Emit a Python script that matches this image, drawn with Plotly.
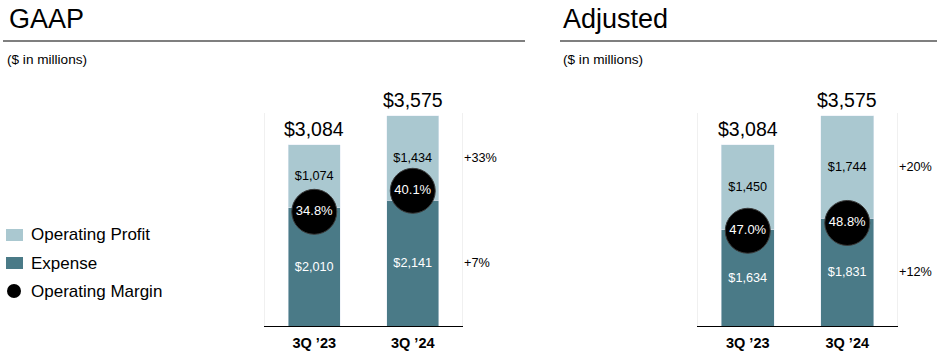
import plotly.graph_objects as go

W, H = 949, 358

categories = ["3Q \u201923", "3Q \u201924"]
gaap_expense = [2010, 2141]
gaap_profit = [1074, 1434]
gaap_total = [3084, 3575]
gaap_margin = [34.8, 40.1]
gaap_growth_profit = "+33%"
gaap_growth_expense = "+7%"

adj_expense = [1634, 1831]
adj_profit = [1450, 1744]
adj_total = [3084, 3575]
adj_margin = [47.0, 48.8]
adj_growth_profit = "+20%"
adj_growth_expense = "+12%"

LIGHT = "#AAC8D0"
DARK = "#4A7A87"
FONT = "Arial, Liberation Sans, sans-serif"


def px(x):
    return x / W


def py(y):
    return 1 - y / H


fig = go.Figure()

panels = [
    dict(xa="x", ya="y", ya2="y2", exp=gaap_expense, prof=gaap_profit, tot=gaap_total,
         mar=gaap_margin, gp=gaap_growth_profit, ge=gaap_growth_expense),
    dict(xa="x3", ya="y3", ya2="y4", exp=adj_expense, prof=adj_profit, tot=adj_total,
         mar=adj_margin, gp=adj_growth_profit, ge=adj_growth_expense),
]

for p in panels:
    fig.add_trace(go.Bar(
        x=categories, y=p["exp"], name="Expense", marker_color=DARK,
        text=[f"${v:,}" for v in p["exp"]], textposition="inside",
        insidetextanchor="middle", textangle=0,
        textfont=dict(color="white", size=12.7, family=FONT),
        xaxis=p["xa"], yaxis=p["ya"], width=0.53, showlegend=False,
    ))
    fig.add_trace(go.Bar(
        x=categories, y=p["prof"], name="Operating Profit", marker_color=LIGHT,
        text=[f"${v:,}" for v in p["prof"]], textposition="inside",
        insidetextanchor="middle", textangle=0,
        textfont=dict(color="black", size=12.7, family=FONT),
        xaxis=p["xa"], yaxis=p["ya"], width=0.53, showlegend=False,
    ))
    fig.add_trace(go.Scatter(
        x=categories, y=p["mar"], name="Operating Margin", mode="markers+text",
        marker=dict(color="black", size=45, line=dict(color="#3a3a3a", width=1)),
        text=[f"{v:.1f}%" for v in p["mar"]], textposition="middle center",
        textfont=dict(color="white", size=13, family=FONT),
        xaxis=p["xa"], yaxis=p["ya2"], showlegend=False, cliponaxis=False,
        hoverinfo="skip",
    ))
    for c, t in zip(categories, p["tot"]):
        fig.add_annotation(x=c, y=t, xref=p["xa"], yref=p["ya"], text=f"${t:,}",
                           showarrow=False, yanchor="bottom", yshift=3,
                           font=dict(size=19.5, color="black", family=FONT))
    last_e = p["exp"][-1]
    last_p = p["prof"][-1]
    fig.add_annotation(x=1.5, y=last_e + last_p / 2, xref=p["xa"], yref=p["ya"],
                       text=p["gp"], showarrow=False, xanchor="left", xshift=0,
                       font=dict(size=12.7, color="black", family=FONT))
    fig.add_annotation(x=1.5, y=last_e / 2, xref=p["xa"], yref=p["ya"],
                       text=p["ge"], showarrow=False, xanchor="left", xshift=0,
                       font=dict(size=12.7, color="black", family=FONT))

ydom = [py(326), py(113)]
common_x = dict(type="category", range=[-0.5, 1.5], showline=True, linecolor="black",
                linewidth=1, showgrid=False, zeroline=False, ticks="outside", ticklen=4,
                tickcolor="rgba(0,0,0,0)",
                tickfont=dict(size=14.5, color="black", family=FONT, weight="bold"))
common_y = dict(range=[0, 3625], showgrid=False, zeroline=False, showticklabels=False,
                showline=True, mirror=True, linecolor="#F0F0F0", linewidth=1, ticks="")

fig.update_layout(
    width=W, height=H, margin=dict(l=0, r=0, t=0, b=0),
    paper_bgcolor="white", plot_bgcolor="white",
    barmode="stack", showlegend=False, hovermode=False,
    font=dict(family=FONT, color="black"),
    xaxis=dict(domain=[px(265), px(462)], anchor="y", **common_x),
    yaxis=dict(domain=ydom, anchor="x", **common_y),
    yaxis2=dict(domain=ydom, overlaying="y", range=[5.98, 59.74], visible=False),
    xaxis3=dict(domain=[px(698), px(897)], anchor="y3", **common_x),
    yaxis3=dict(domain=ydom, anchor="x3", **common_y),
    yaxis4=dict(domain=ydom, overlaying="y3", range=[25.0, 74.2], visible=False),
)

for title, x0, x1, tx, sx in [("GAAP", 3, 525, 7, 5), ("Adjusted", 560, 937, 561, 561)]:
    fig.add_annotation(x=px(tx), y=py(19), xref="paper", yref="paper",
                       text=title, showarrow=False, xanchor="left", yanchor="middle",
                       font=dict(size=27, color="black", family=FONT))
    fig.add_shape(type="line", xref="paper", yref="paper", x0=px(x0), x1=px(x1),
                  y0=py(41), y1=py(41), line=dict(color="black", width=1.2))
    fig.add_annotation(x=px(sx), y=py(59), xref="paper", yref="paper",
                       text="($ in millions)", showarrow=False, xanchor="left", yanchor="middle",
                       font=dict(size=13.6, color="black", family=FONT))

legend_items = [("Operating Profit", LIGHT, "rect", 235),
                ("Expense", DARK, "rect", 263),
                ("Operating Margin", "black", "circle", 291)]
for label, col, kind, yc in legend_items:
    if kind == "rect":
        fig.add_shape(type="rect", xref="paper", yref="paper", x0=px(6), x1=px(23),
                      y0=py(yc + 6), y1=py(yc - 6), fillcolor=col, line=dict(width=0))
    else:
        fig.add_shape(type="circle", xref="paper", yref="paper", x0=px(7), x1=px(21),
                      y0=py(yc + 7), y1=py(yc - 7), fillcolor=col, line=dict(width=0))
    fig.add_annotation(x=px(29), y=py(yc), xref="paper", yref="paper", text=label,
                       showarrow=False, xanchor="left", yanchor="middle",
                       font=dict(size=17, color="black", family=FONT))

fig.write_html("out.html", config={"displayModeBar": False},
               post_script="document.body.style.margin='0';document.body.style.overflow='hidden';")
